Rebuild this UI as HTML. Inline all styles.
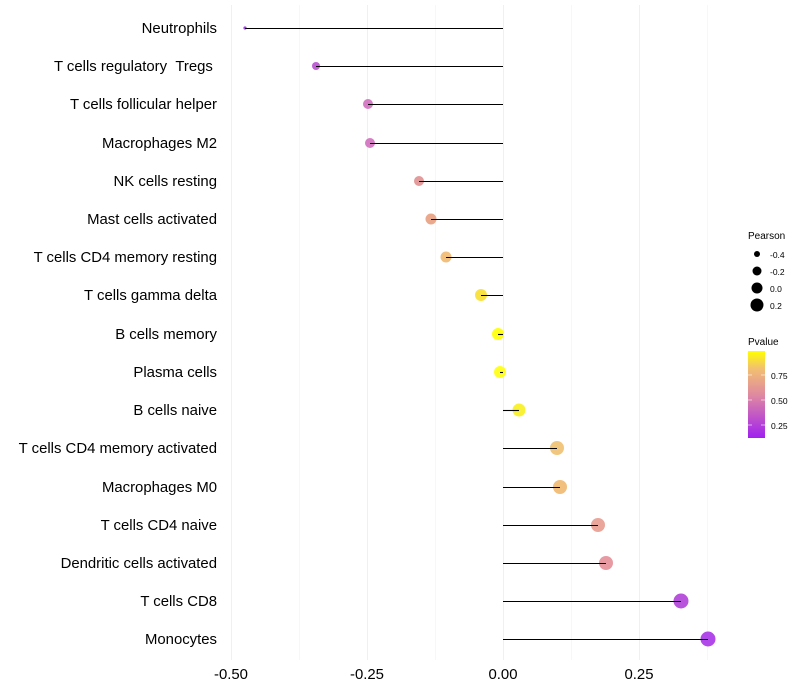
<!DOCTYPE html>
<html><head><meta charset="utf-8"><style>body{margin:0;background:#fff}svg{display:block}</style></head><body>
<svg width="800" height="700" xmlns="http://www.w3.org/2000/svg" font-family="Liberation Sans, sans-serif">
<g stroke="#f0f0f0" stroke-width="1">
<line x1="231.5" y1="5" x2="231.5" y2="660"/><line x1="299.5" y1="5" x2="299.5" y2="660" stroke="#f7f7f7"/>
<line x1="367.5" y1="5" x2="367.5" y2="660"/><line x1="435.5" y1="5" x2="435.5" y2="660" stroke="#f7f7f7"/>
<line x1="503.5" y1="5" x2="503.5" y2="660"/><line x1="571.5" y1="5" x2="571.5" y2="660" stroke="#f7f7f7"/>
<line x1="639.5" y1="5" x2="639.5" y2="660"/><line x1="707.5" y1="5" x2="707.5" y2="660" stroke="#f7f7f7"/>
</g>
<g font-size="14.9" fill="#000" text-anchor="end">
<text x="217" y="33">Neutrophils</text>
<text x="217" y="71">T cells regulatory &#160;Tregs&#160;</text>
<text x="217" y="109">T cells follicular helper</text>
<text x="217" y="148">Macrophages M2</text>
<text x="217" y="186">NK cells resting</text>
<text x="217" y="224">Mast cells activated</text>
<text x="217" y="262">T cells CD4 memory resting</text>
<text x="217" y="300">T cells gamma delta</text>
<text x="217" y="339">B cells memory</text>
<text x="217" y="377">Plasma cells</text>
<text x="217" y="415">B cells naive</text>
<text x="217" y="453">T cells CD4 memory activated</text>
<text x="217" y="492">Macrophages M0</text>
<text x="217" y="530">T cells CD4 naive</text>
<text x="217" y="568">Dendritic cells activated</text>
<text x="217" y="606">T cells CD8</text>
<text x="217" y="644">Monocytes</text>
</g>
<g font-size="14.9" text-anchor="middle">
<text x="231" y="679">-0.50</text><text x="367" y="679">-0.25</text><text x="503" y="679">0.00</text><text x="639" y="679">0.25</text>
</g>
<g fill-opacity="0.9">
<circle cx="245" cy="28" r="1.6" fill="#9b30e0"/>
<circle cx="316" cy="66" r="4" fill="#b84fd0"/>
<circle cx="368" cy="104" r="5" fill="#d070c0"/>
<circle cx="370" cy="143" r="5" fill="#d070c0"/>
<circle cx="419" cy="181" r="5" fill="#e09090"/>
<circle cx="431" cy="219" r="5.5" fill="#e8a080"/>
<circle cx="446" cy="257" r="5.5" fill="#f0b870"/>
<circle cx="481" cy="295" r="6" fill="#f8e030"/>
<circle cx="498" cy="334" r="6" fill="#ffff00"/>
<circle cx="500" cy="372" r="6" fill="#ffff10"/>
<circle cx="519" cy="410" r="6.5" fill="#f8f020"/>
<circle cx="557" cy="448" r="7" fill="#f0c070"/>
<circle cx="560" cy="487" r="7" fill="#f0b870"/>
<circle cx="598" cy="525" r="7" fill="#e89c90"/>
<circle cx="606" cy="563" r="7" fill="#e48f98"/>
<circle cx="681" cy="601" r="7.5" fill="#b040d8"/>
<circle cx="708" cy="639" r="7.5" fill="#a834e8"/>
</g>
<g stroke="#000" stroke-width="1.1">
<line x1="245" y1="28.5" x2="503" y2="28.5"/><line x1="316" y1="66.5" x2="503" y2="66.5"/>
<line x1="368" y1="104.5" x2="503" y2="104.5"/><line x1="370" y1="143.5" x2="503" y2="143.5"/>
<line x1="419" y1="181.5" x2="503" y2="181.5"/><line x1="431" y1="219.5" x2="503" y2="219.5"/>
<line x1="446" y1="257.5" x2="503" y2="257.5"/><line x1="481" y1="295.5" x2="503" y2="295.5"/>
<line x1="498" y1="334.5" x2="503" y2="334.5"/><line x1="500" y1="372.5" x2="503" y2="372.5"/>
<line x1="503" y1="410.5" x2="519" y2="410.5"/><line x1="503" y1="448.5" x2="557" y2="448.5"/>
<line x1="503" y1="487.5" x2="560" y2="487.5"/><line x1="503" y1="525.5" x2="598" y2="525.5"/>
<line x1="503" y1="563.5" x2="606" y2="563.5"/><line x1="503" y1="601.5" x2="681" y2="601.5"/>
<line x1="503" y1="639.5" x2="708" y2="639.5"/>
</g>
<g font-size="10">
<text x="748" y="239">Pearson</text>
<circle cx="757" cy="254" r="3"/><text x="770" y="258" font-size="8.5">-0.4</text>
<circle cx="757" cy="271" r="4.5"/><text x="770" y="275" font-size="8.5">-0.2</text>
<circle cx="757" cy="288" r="5.5"/><text x="770" y="292" font-size="8.5">0.0</text>
<circle cx="757" cy="305" r="6.5"/><text x="770" y="309" font-size="8.5">0.2</text>
<text x="748" y="345">Pvalue</text>
</g>
<defs><linearGradient id="g" x1="0" y1="1" x2="0" y2="0">
<stop offset="0" stop-color="#a020f0"/><stop offset="0.5" stop-color="#e08aa0"/><stop offset="0.8" stop-color="#f2c070"/><stop offset="1" stop-color="#ffff00"/></linearGradient></defs>
<rect x="748" y="351" width="17" height="87" fill="url(#g)"/>
<g stroke="#fff" stroke-opacity="0.6"><line x1="748" y1="375" x2="752" y2="375"/><line x1="761" y1="375" x2="765" y2="375"/><line x1="748" y1="400" x2="752" y2="400"/><line x1="761" y1="400" x2="765" y2="400"/><line x1="748" y1="425" x2="752" y2="425"/><line x1="761" y1="425" x2="765" y2="425"/></g>
<g font-size="8.5"><text x="771" y="379">0.75</text><text x="771" y="404">0.50</text><text x="771" y="429">0.25</text></g>
</svg>
</body></html>
